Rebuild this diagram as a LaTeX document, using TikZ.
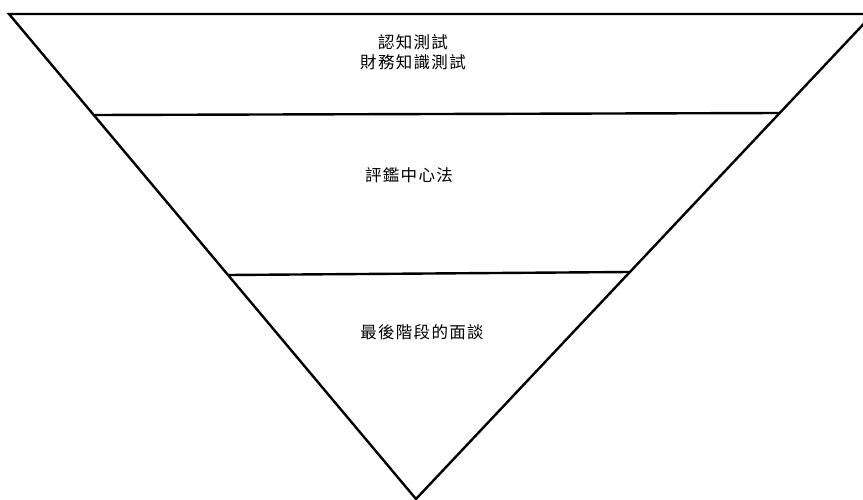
\documentclass[tikz,border=0pt]{standalone}
\usepackage{fontspec}
\newfontfamily\cjk[LetterSpace=8]{Noto Sans CJK TC}
\begin{document}
\begin{tikzpicture}[x=1pt,y=-1pt,
  edge/.style={line width=2.4pt,black},
  lbl/.style={font=\cjk\fontsize{16.5}{19.5}\selectfont,align=center,inner sep=0pt}]
\useasboundingbox (0,0) rectangle (863,500);
\clip (0,0) rectangle (863,500);
\coordinate (tl) at (9,14);
\coordinate (tr) at (873,14);
\coordinate (ap) at (416,499);
\coordinate (l2a) at (95,115);
\coordinate (l2b) at (780,113);
\coordinate (l3a) at (229,275);
\coordinate (l3b) at (629,272);
\draw[edge,line join=miter] (tr) -- (tl) -- (ap) -- (tr);
\draw[edge] (l2a) -- (l2b);
\draw[edge] (l3a) -- (l3b);
\node[lbl] (t1) at (413,52) {認知測試\\財務知識測試};
\node[lbl] (t2) at (409,175) {評鑑中心法};
\node[lbl] (t3) at (422,332) {最後階段的面談};
\end{tikzpicture}
\end{document}
